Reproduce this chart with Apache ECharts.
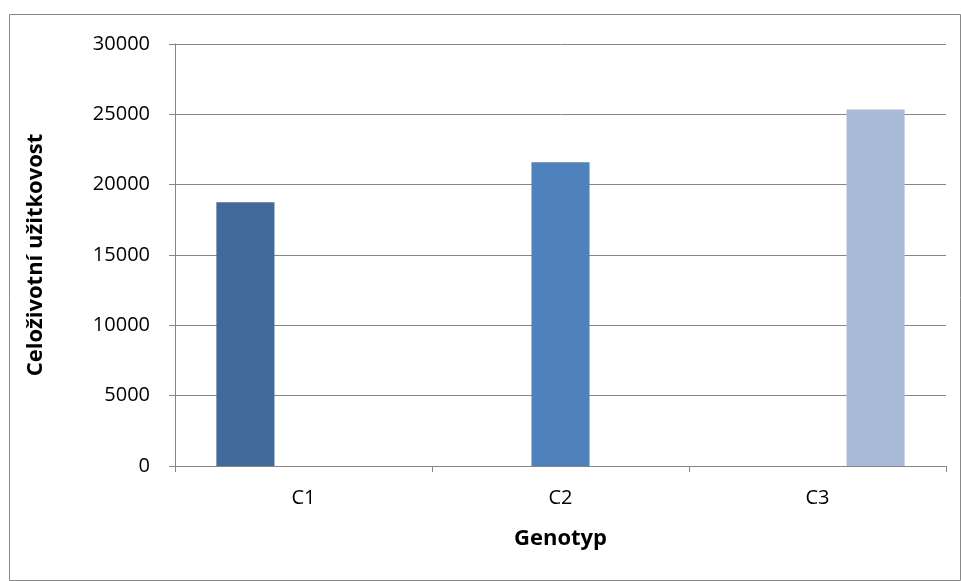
<!DOCTYPE html>
<html>
<head>
<meta charset="utf-8">
<script src="https://cdn.jsdelivr.net/npm/echarts@6/dist/echarts.min.js"></script>
<style>
  html, body { margin: 0; padding: 0; background: #fff; }
  #chart { width: 961px; height: 581px; }
</style>
</head>
<body>
<div id="chart"></div>
<script>
// Lifetime performance by genotype
const categories = ['C1', 'C2', 'C3'];
const seriesNames = ['C1', 'C2', 'C3'];
const values = [18750, 21600, 25350];
const colors = ['#41699A', '#4F81BD', '#A9BAD8'];
const yTicks = [0, 5000, 10000, 15000, 20000, 25000, 30000];

const FONT = '"Open Sans", "DejaVu Sans", sans-serif';
const GRAY = '#868686';

// one series per genotype, each filling only its own category slot
const series = seriesNames.map((name, i) => ({
  name: name,
  type: 'bar',
  barGap: '0%',
  barCategoryGap: '32.2%',
  itemStyle: { color: colors[i] },
  data: categories.map((c, j) => (j === i ? values[i] : '-'))
}));

const chart = echarts.init(document.getElementById('chart'), null, { renderer: 'canvas' });
chart.setOption({
  animation: false,
  backgroundColor: '#ffffff',
  graphic: [{
    type: 'rect',
    shape: { x: 9.5, y: 14.5, width: 951, height: 566 },
    style: { fill: 'none', stroke: '#888888', lineWidth: 1 },
    silent: true
  }],
  grid: { left: 175, right: 15, top: 44, bottom: 115, containLabel: false },
  xAxis: {
    type: 'category',
    data: categories,
    name: 'Genotyp',
    nameLocation: 'middle',
    nameGap: 62,
    nameTextStyle: { fontFamily: FONT, fontSize: 22, fontWeight: 'bold', color: '#000' },
    axisLine: { lineStyle: { color: GRAY, width: 1 } },
    axisTick: { show: true, length: 6, lineStyle: { color: GRAY } },
    axisLabel: { fontFamily: FONT, fontSize: 20, color: '#000', margin: 22 }
  },
  yAxis: {
    type: 'value',
    min: yTicks[0],
    max: yTicks[yTicks.length - 1],
    interval: yTicks[1] - yTicks[0],
    name: 'Celoživotní užitkovost',
    nameLocation: 'middle',
    nameGap: 128,
    nameTextStyle: { fontFamily: FONT, fontSize: 22, fontWeight: 'bold', color: '#000' },
    axisLine: { show: true, lineStyle: { color: GRAY, width: 1 } },
    axisTick: { show: true, length: 6, lineStyle: { color: GRAY } },
    axisLabel: {
      fontFamily: FONT, fontSize: 20, color: '#000', margin: 25,
      formatter: (v) => String(v)
    },
    splitLine: { lineStyle: { color: GRAY, width: 1 } }
  },
  series: series
});
</script>
</body>
</html>
